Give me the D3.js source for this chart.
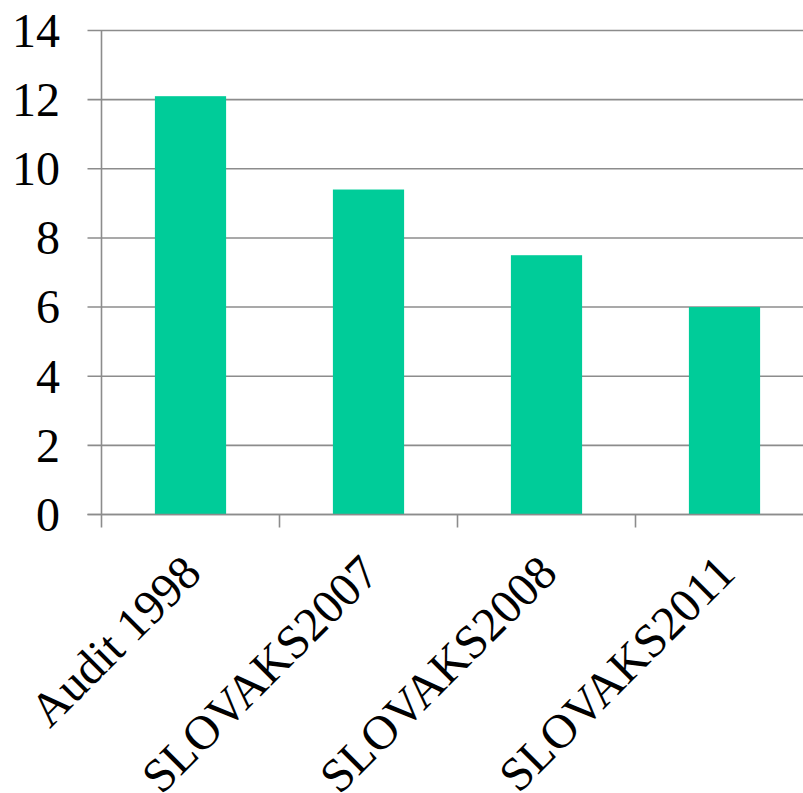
<!DOCTYPE html>
<html>
<head>
<meta charset="utf-8">
<script src="https://cdn.jsdelivr.net/npm/d3@7"></script>
<style>
  html, body { margin: 0; padding: 0; background: #fff; }
  svg { display: block; }
  text { font-family: "Liberation Serif", "Times New Roman", Times, serif; }
</style>
</head>
<body>
<svg id="chart" width="803" height="793"></svg>
<script>
// Survey rounds and their values
const categories = ["Audit 1998", "SLOVAKS2007", "SLOVAKS2008", "SLOVAKS2011"];
const values = [12.1, 9.4, 7.5, 6.0];
const yTicks = [0, 2, 4, 6, 8, 10, 12, 14];

(function () {
  const svg = d3.select("#chart");
  const plotLeft = 101.5, plotTop = 30.5, plotBottom = 514.5, step = 178;
  const plotRight = plotLeft + step * categories.length; // plot runs past the right edge

  const gridColor = "#8c8c8c";

  const y = d3.scaleLinear().domain([0, 14]).range([plotBottom, plotTop]);
  const xBand = d3.scaleBand().domain(categories).range([plotLeft, plotRight]).padding(0);
  const xBar = d3.scaleBand().domain(categories).range([plotLeft, plotRight])
    .paddingInner(0.6).paddingOuter(0.3);

  // Horizontal gridlines (with the left tick stubs)
  svg.append("g")
    .selectAll("line")
    .data(yTicks)
    .join("line")
    .attr("x1", plotLeft - 14)
    .attr("x2", plotRight)
    .attr("y1", d => y(d))
    .attr("y2", d => y(d))
    .attr("stroke", gridColor)
    .attr("stroke-width", 1.6);

  // Bars
  svg.append("g")
    .selectAll("rect")
    .data(categories)
    .join("rect")
    .attr("x", d => xBar(d))
    .attr("width", xBar.bandwidth())
    .attr("y", (d, i) => y(values[i]))
    .attr("height", (d, i) => y(0) - y(values[i]))
    .attr("fill", "#00cc99");

  // Vertical value axis
  svg.append("line")
    .attr("x1", plotLeft).attr("x2", plotLeft)
    .attr("y1", plotTop).attr("y2", plotBottom + 13)
    .attr("stroke", gridColor).attr("stroke-width", 1.6);

  // Category axis baseline
  svg.append("line")
    .attr("x1", plotLeft - 14).attr("x2", plotRight)
    .attr("y1", plotBottom).attr("y2", plotBottom)
    .attr("stroke", gridColor).attr("stroke-width", 1.6);

  // Category boundary ticks
  svg.append("g")
    .selectAll("line")
    .data(categories)
    .join("line")
    .attr("x1", d => xBand(d) + xBand.bandwidth())
    .attr("x2", d => xBand(d) + xBand.bandwidth())
    .attr("y1", plotBottom)
    .attr("y2", plotBottom + 13)
    .attr("stroke", gridColor).attr("stroke-width", 1.6);

  // Value labels
  svg.append("g")
    .selectAll("text")
    .data(yTicks)
    .join("text")
    .attr("x", 60)
    .attr("y", d => y(d))
    .attr("dy", "0.34em")
    .attr("text-anchor", "end")
    .attr("font-size", 48)
    .attr("fill", "#000")
    .text(d => d);

  // Category labels, rotated
  svg.append("g")
    .selectAll("text")
    .data(categories)
    .join("text")
    .attr("transform", d => `translate(${xBand(d) + xBand.bandwidth() / 2 + 13},${plotBottom + 61}) rotate(-45)`)
    .attr("text-anchor", "end")
    .attr("font-size", 48)
    .attr("fill", "#000")
    .text(d => d);
})();
</script>
</body>
</html>
